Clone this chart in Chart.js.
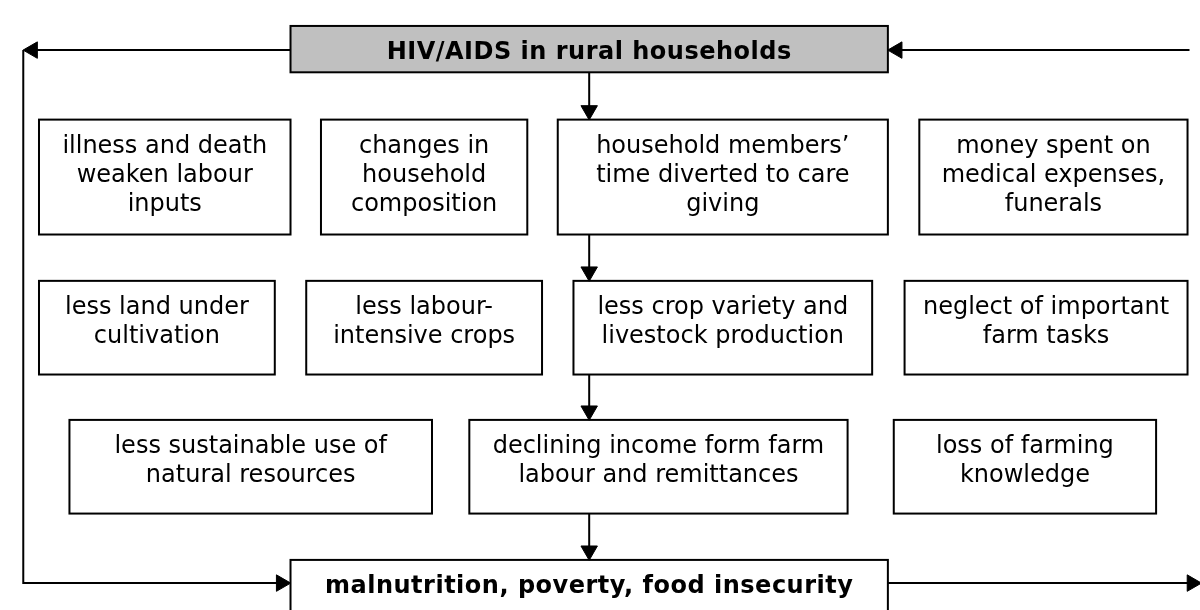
<!DOCTYPE html>
<html>
<head>
<meta charset="utf-8">
<script src="https://cdn.jsdelivr.net/npm/chart.js@4/dist/chart.umd.min.js"></script>
<style>
  html, body { margin: 0; padding: 0; background: #fff; }
  #wrap { width: 1200px; height: 610px; }
</style>
</head>
<body>
<div id="wrap"><canvas id="chart" width="1200" height="610"></canvas></div>
<script>
// box captions, line by line as wrapped in the original
const boxText = [
  ['HIV/AIDS in rural households'],
  ['illness and death', 'weaken labour', 'inputs'],
  ['changes in', 'household', 'composition'],
  ['household members\u2019', 'time diverted to care', 'giving'],
  ['money spent on', 'medical expenses,', 'funerals'],
  ['less land under', 'cultivation'],
  ['less labour-', 'intensive crops'],
  ['less crop variety and', 'livestock production'],
  ['neglect of important', 'farm tasks'],
  ['less sustainable use of', 'natural resources'],
  ['declining income form farm', 'labour and remittances'],
  ['loss of farming', 'knowledge'],
  ['malnutrition, poverty, food insecurity']
];
// which row each box sits in
const boxRow = [0, 1, 1, 1, 1, 2, 2, 2, 2, 3, 3, 3, 4];
// horizontal extent of each box, in diagram units
const boxLeft = [285, 29, 316, 557, 925, 29, 301, 573, 910, 60, 467, 899, 285];
const boxRight = [893, 285, 526, 893, 1198, 269, 541, 877, 1198, 429, 852, 1166, 893];
// vertical extent of each row
const rowTop = [16, 113, 280, 424, 569];
const rowBottom = [64, 232, 377, 521, 640];
// connectors: each one a polyline of [x, y] points
const connectors = [
  [[589, 64], [589, 104]],
  [[589, 232], [589, 271]],
  [[589, 377], [589, 415]],
  [[589, 521], [589, 560]],
  [[285, 41], [22, 41]],
  [[13, 41], [13, 593], [276, 593]],
  [[1200, 41], [902, 41]],
  [[893, 593], [1200, 593]]
];
// arrow tips: where they point and which way (degrees, 0 = up)
const arrowTipX = [589, 589, 589, 589, 13, 285, 893, 1212];
const arrowTipY = [113, 280, 424, 569, 41, 593, 41, 593];
const arrowDir = [180, 180, 180, 180, 270, 90, 270, 90];

const headSize = 9.5;
const boldBoxes = [0, 12];

const arrowPoints = arrowTipX.map((tx, i) => {
  const rad = arrowDir[i] * Math.PI / 180;
  return { x: tx - Math.sin(rad) * headSize, y: arrowTipY[i] + Math.cos(rad) * headSize };
});

const boxPlugin = {
  id: 'boxes',
  beforeDatasetsDraw(chart) {
    const { ctx, scales: { x, y } } = chart;
    ctx.save();
    ctx.textAlign = 'center';
    ctx.textBaseline = 'middle';
    boxText.forEach((lines, i) => {
      const l = x.getPixelForValue(boxLeft[i]);
      const r = x.getPixelForValue(boxRight[i]);
      const t = y.getPixelForValue(rowTop[boxRow[i]]);
      const b = y.getPixelForValue(rowBottom[boxRow[i]]);
      ctx.fillStyle = i === 0 ? '#c0c0c0' : '#ffffff';
      ctx.fillRect(l, t, r - l, b - t);
      ctx.lineWidth = 2;
      ctx.strokeStyle = '#000';
      ctx.strokeRect(l, t, r - l, b - t);
      const bold = boldBoxes.includes(i);
      ctx.font = (bold ? 'bold ' : '') + '24px "DejaVu Sans", Verdana, sans-serif';
      ctx.letterSpacing = bold ? '0.5px' : '0px';
      ctx.fillStyle = '#000';
      lines.forEach((s, k) => ctx.fillText(s, (l + r) / 2, t + 27 + k * 29));
    });
    ctx.restore();
  }
};

const datasets = connectors.map(pts => ({
  type: 'line',
  data: pts.map(([px, py]) => ({ x: px, y: py })),
  showLine: true,
  borderColor: '#000',
  borderWidth: 2,
  pointRadius: 0,
  fill: false,
  tension: 0,
  clip: false
}));
datasets.push({
  type: 'scatter',
  data: arrowPoints,
  pointStyle: 'triangle',
  pointRadius: headSize,
  pointRotation: arrowDir,
  backgroundColor: '#000',
  borderColor: '#000',
  borderWidth: 1,
  clip: false
});

new Chart(document.getElementById('chart'), {
  type: 'scatter',
  data: { datasets },
  options: {
    responsive: false,
    animation: false,
    events: [],
    layout: { padding: 0 },
    plugins: { legend: { display: false }, tooltip: { enabled: false } },
    scales: {
      x: { type: 'linear', min: 0, max: 1200, display: false },
      y: { type: 'linear', min: 0, max: 610, reverse: true, display: false }
    }
  },
  plugins: [boxPlugin]
});
</script>
</body>
</html>
